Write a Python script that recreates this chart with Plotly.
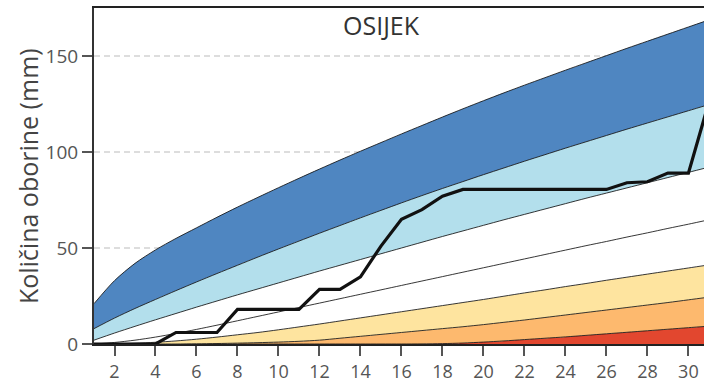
import plotly.graph_objects as go

# Day of month
days = list(range(1, 32))

# Cumulative precipitation climatology bands (mm), from lowest to highest boundary
p_red_top = [0, 0, 0, 0, 0, 0, 0, 0, 0, 0, 0, 0, 0, 0, 0, 0, 0.05, 0.2, 0.5,
             1.0, 1.6, 2.3, 3.0, 3.7, 4.5, 5.3, 6.1, 6.9, 7.7, 8.5, 9.3]
p_orange_top = [0, 0, 0, 0, 0, 0.1, 0.25, 0.45, 0.7, 1.0, 1.4, 2.0, 3.0, 4.0, 5.0,
                6.0, 7.0, 8.0, 9.0, 10.1, 11.3, 12.5, 13.8, 15.1, 16.4, 17.7, 19.0,
                20.3, 21.6, 23.0, 24.4]
p_yellow_top = [0, 0.1, 0.4, 0.9, 1.6, 2.5, 3.6, 4.8, 6.0, 7.4, 8.9, 10.4, 12.0,
                13.6, 15.2, 16.8, 18.4, 20.0, 21.6, 23.2, 24.9, 26.6, 28.2, 29.9,
                31.5, 33.2, 34.8, 36.4, 38.0, 39.6, 41.2]
p_median = [0, 0.8, 2.0, 3.6, 5.5, 7.6, 9.8, 12.1, 14.4, 16.7, 19.0, 21.3, 23.6,
            25.9, 28.2, 30.5, 32.8, 35.1, 37.4, 39.7, 42.0, 44.3, 46.6, 48.9, 51.2,
            53.4, 55.7, 57.9, 60.2, 62.4, 64.7]
p_lightblue_low = [2.0, 5.7, 9.2, 12.6, 15.9, 19.2, 22.4, 25.6, 28.7, 31.8, 34.9,
                   38.0, 41.0, 44.0, 47.0, 50.0, 53.0, 56.0, 58.9, 61.8, 64.7, 67.5,
                   70.3, 73.1, 75.9, 78.6, 81.3, 84.0, 86.7, 89.4, 92.1]
p_darkblue_low = [8.0, 13.5, 18.5, 23.2, 27.8, 32.3, 36.7, 41.0, 45.3, 49.5, 53.6,
                  57.7, 61.7, 65.7, 69.6, 73.5, 77.3, 81.0, 84.6, 88.2, 91.7, 95.2,
                  98.6, 102.0, 105.3, 108.6, 111.9, 115.1, 118.3, 121.5, 124.7]
p_darkblue_top = [21.0, 33.0, 42.0, 49.0, 55.0, 60.5, 66.0, 71.3, 76.4, 81.4, 86.3,
                  91.1, 95.8, 100.4, 104.9, 109.4, 113.8, 118.2, 122.5, 126.7, 130.8,
                  134.8, 138.7, 142.6, 146.4, 150.2, 154.0, 157.7, 161.4, 165.1, 168.8]

# Observed cumulative precipitation (mm)
observed = [0, 0, 0, 0, 6, 6, 6, 18, 18, 18, 18, 28.5, 28.5, 35, 51, 65, 70, 77,
            80.5, 80.5, 80.5, 80.5, 80.5, 80.5, 80.5, 80.5, 84, 84.5, 89, 89, 126]

x_ticks = list(range(2, 31, 2))
y_ticks = [0, 50, 100, 150]

bands = [
    (p_red_top, "#e2472f", "tozeroy"),
    (p_orange_top, "#fdb96e", "tonexty"),
    (p_yellow_top, "#fee49f", "tonexty"),
    (p_median, "#ffffff", "tonexty"),
    (p_lightblue_low, "#ffffff", "tonexty"),
    (p_darkblue_low, "#b3dfec", "tonexty"),
    (p_darkblue_top, "#4f86c1", "tonexty"),
]

fig = go.Figure()
for values, color, fill in bands:
    fig.add_trace(go.Scatter(
        x=days, y=values, mode="lines", fill=fill, fillcolor=color,
        line=dict(color="rgba(20,20,20,0.85)", width=1, shape="spline", smoothing=0.8),
        hoverinfo="skip", showlegend=False,
    ))

fig.add_trace(go.Scatter(
    x=days, y=observed, mode="lines",
    line=dict(color="#111111", width=3.2),
    showlegend=False,
))

font_family = "Open Sans, DejaVu Sans, sans-serif"

fig.update_layout(
    width=704, height=385,
    margin=dict(l=94, r=0, t=8, b=41),
    paper_bgcolor="white", plot_bgcolor="white",
    font=dict(family=font_family, color="#555555"),
    showlegend=False,
    xaxis=dict(
        range=[1, 30.76], tickvals=x_ticks, ticks="outside", ticklen=10,
        tickwidth=2, tickcolor="#555555", tickfont=dict(size=18, color="#555555"),
        showline=True, linecolor="#222222", linewidth=2, mirror=True,
        showgrid=False, zeroline=False, layer="above traces",
    ),
    yaxis=dict(
        range=[0, 175], tickvals=y_ticks, ticks="outside", ticklen=10,
        tickwidth=2, tickcolor="#555555", tickfont=dict(size=19, color="#555555"),
        showline=True, linecolor="#333333", linewidth=2,
        showgrid=True, gridcolor="rgba(215,215,215,0.85)", gridwidth=1.5,
        griddash="6px,4px", zeroline=False, layer="above traces",
    ),
    annotations=[
        dict(text="OSIJEK", xref="paper", yref="paper", x=0.472, y=0.95,
             xanchor="center", yanchor="middle", showarrow=False,
             font=dict(size=25, color="#333333", family=font_family)),
        dict(text="Količina oborine (mm)", xref="paper", yref="paper",
             x=-0.108, y=0.5, xanchor="center", yanchor="middle", textangle=-90,
             showarrow=False, font=dict(size=25, color="#444444", family=font_family)),
    ],
)

fig.write_html("out.html")
